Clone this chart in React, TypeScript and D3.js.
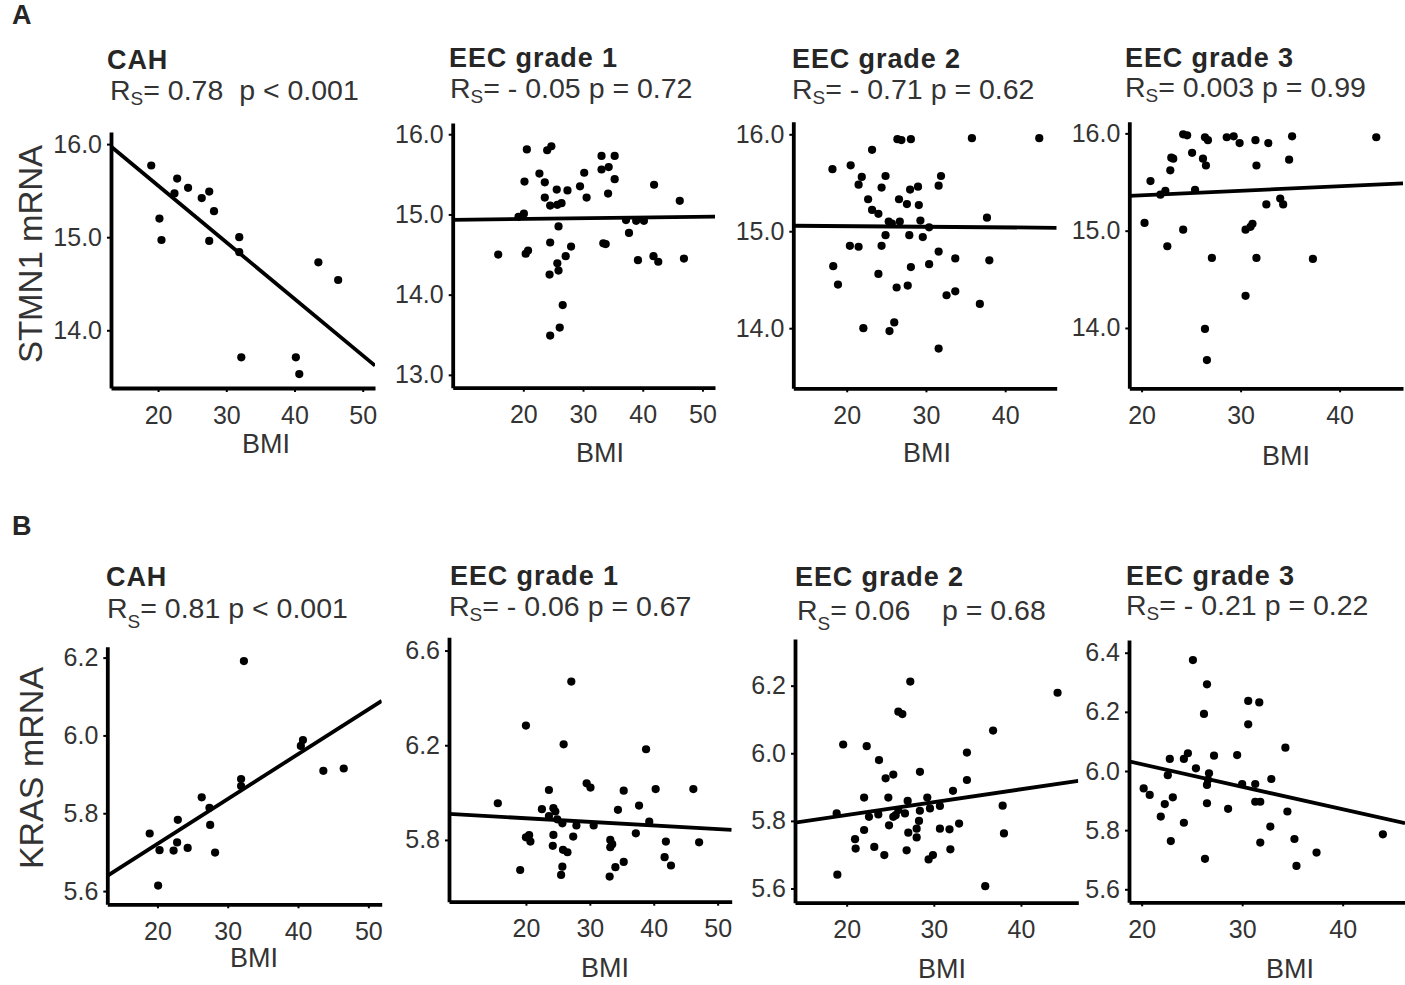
import React, { useEffect, useRef } from "react";
import * as d3 from "d3";

// panel titles and correlation labels
const panelTitles = ["CAH", "EEC grade 1", "EEC grade 2", "EEC grade 3"];
const stmn1Stats = ["= 0.78  p < 0.001", "= - 0.05 p = 0.72", "= - 0.71 p = 0.62", "= 0.003 p = 0.99"];
const krasStats = ["= 0.81 p < 0.001", "= - 0.06 p = 0.67", "= 0.06    p = 0.68", "= - 0.21 p = 0.22"];

// BMI vs STMN1 mRNA
const stmn1Cah = [
  [19.0, 15.77], [20.2, 15.2], [20.5, 14.97], [22.4, 15.47], [22.8, 15.63], [24.4, 15.53], [26.4, 15.42],
  [27.5, 15.49], [28.2, 15.28], [27.5, 14.96], [31.9, 15.0], [31.9, 14.84], [43.5, 14.73], [46.4, 14.54],
  [32.2, 13.71], [40.2, 13.71], [40.7, 13.53],
];
const stmn1Grade1 = [
  [15.8, 14.5], [19.2, 14.97], [20.1, 15.01], [20.2, 15.41], [20.6, 15.81], [20.4, 14.51], [20.8, 14.55],
  [22.7, 15.51], [23.6, 15.4], [23.6, 15.21], [24.0, 15.8], [24.7, 15.85], [24.5, 15.11], [24.5, 14.65],
  [24.4, 14.25], [24.5, 13.49], [25.6, 15.31], [25.7, 15.12], [26.4, 15.14], [25.9, 14.85], [25.7, 14.39],
  [25.9, 14.3], [26.1, 13.59], [26.6, 13.87], [27.1, 14.48], [27.4, 15.3], [28.0, 14.6], [29.5, 15.35],
  [30.2, 15.52], [30.6, 15.21], [33.1, 15.73], [33.1, 15.56], [33.4, 14.64], [33.8, 14.63], [34.3, 15.59],
  [34.2, 15.26], [35.3, 15.73], [35.3, 15.44], [37.2, 14.93], [37.7, 14.77], [38.9, 14.92], [40.2, 14.92],
  [39.2, 14.43], [41.9, 15.37], [41.8, 14.48], [42.6, 14.41], [46.2, 15.17], [46.9, 14.45],
];
const stmn1Grade2 = [
  [18.2, 15.64], [18.3, 14.64], [18.9, 14.45], [20.5, 15.68], [20.4, 14.85], [21.5, 14.84], [21.9, 15.56],
  [21.5, 15.48], [22.1, 14.0], [22.7, 15.33], [23.2, 15.84], [23.2, 15.22], [24.0, 15.18], [24.4, 15.45],
  [24.9, 15.57], [24.4, 14.85], [24.0, 14.56], [24.9, 14.96], [25.3, 15.1], [25.7, 15.08], [26.0, 14.06],
  [25.4, 13.97], [26.3, 14.42], [26.4, 15.95], [26.9, 15.94], [26.6, 15.33], [26.7, 15.1], [27.6, 15.28],
  [27.7, 14.44], [27.9, 14.96], [28.1, 15.95], [28.0, 15.43], [29.0, 15.46], [28.1, 14.63], [29.1, 15.27],
  [29.3, 15.11], [29.6, 14.94], [30.4, 15.04], [30.4, 14.66], [31.6, 15.47], [31.9, 15.57], [31.6, 14.79],
  [31.6, 13.79], [32.6, 14.34], [33.7, 14.38], [33.7, 14.72], [35.8, 15.96], [36.8, 14.25], [37.7, 15.14],
  [38.0, 14.7], [44.3, 15.96],
];
const stmn1Grade3 = [
  [20.3, 15.08], [20.9, 15.51], [21.9, 15.37], [22.4, 15.41], [22.6, 14.84], [22.9, 15.62], [23.0, 15.75],
  [23.2, 15.74], [24.2, 15.99], [24.6, 15.98], [24.2, 15.01], [25.1, 15.8], [25.4, 15.42], [26.2, 15.74],
  [26.5, 15.67], [26.4, 15.96], [26.7, 15.93], [27.1, 14.72], [26.4, 13.99], [26.6, 13.67], [28.6, 15.96],
  [29.3, 15.97], [29.9, 15.9], [30.5, 15.01], [31.2, 15.07], [31.0, 15.04], [30.5, 14.33], [31.5, 15.93],
  [31.6, 15.67], [31.6, 14.72], [32.8, 15.9], [32.6, 15.27], [34.0, 15.33], [34.3, 15.27], [34.9, 15.73],
  [35.2, 15.97], [37.3, 14.71], [43.7, 15.96],
];

// BMI vs KRAS mRNA
const krasCah = [
  [18.9, 5.748], [20.3, 5.705], [20.1, 5.614], [22.3, 5.704], [22.8, 5.725], [22.9, 5.783], [24.3, 5.711],
  [26.3, 5.841], [27.4, 5.814], [27.5, 5.77], [28.2, 5.699], [31.9, 5.888], [31.9, 5.87], [32.3, 6.191],
  [40.4, 5.973], [40.7, 5.988], [43.6, 5.909], [46.5, 5.915],
];
const krasGrade1 = [
  [15.6, 5.955], [19.1, 5.673], [20.0, 6.283], [20.0, 5.811], [20.5, 5.82], [20.7, 5.793], [22.5, 5.93],
  [23.6, 6.011], [23.6, 5.901], [24.3, 5.934], [24.6, 5.92], [24.3, 5.821], [24.2, 5.775], [24.9, 5.887],
  [25.7, 5.87], [25.8, 5.758], [26.5, 5.748], [25.7, 5.687], [25.5, 5.652], [25.9, 6.204], [27.1, 6.469],
  [27.4, 5.814], [27.9, 5.861], [29.5, 6.039], [30.1, 6.021], [30.6, 5.861], [33.2, 5.8], [33.5, 5.782],
  [33.2, 5.769], [33.1, 5.645], [34.0, 5.685], [34.4, 5.927], [35.3, 6.008], [35.3, 5.707], [37.2, 5.828],
  [37.7, 5.945], [38.8, 6.183], [39.3, 5.877], [40.3, 6.015], [41.9, 5.793], [41.7, 5.727], [42.7, 5.692],
  [46.2, 6.015], [47.1, 5.79],
];
const krasGrade2 = [
  [18.85, 5.822], [18.93, 5.641], [19.6, 6.026], [20.96, 5.746], [21.03, 5.718], [22.0, 5.869], [22.0, 5.773],
  [22.3, 6.021], [22.56, 5.812], [23.17, 5.723], [23.63, 5.819], [23.71, 5.98], [24.32, 5.699], [24.47, 5.926],
  [24.78, 5.869], [24.86, 5.787], [25.35, 5.937], [25.35, 5.812], [25.62, 5.817], [25.93, 6.123], [26.39, 6.116],
  [25.93, 5.832], [26.69, 5.822], [27.0, 5.859], [27.07, 5.765], [27.3, 6.212], [26.88, 5.713], [28.03, 5.751],
  [28.03, 5.777], [28.3, 5.8], [28.4, 5.83], [28.41, 5.945], [29.25, 5.869], [29.56, 5.837], [29.4, 5.686],
  [29.9, 5.699], [30.7, 5.844], [30.7, 5.777], [31.8, 5.775], [31.9, 5.716], [32.2, 5.889], [32.9, 5.792],
  [33.8, 6.002], [33.8, 5.921], [35.9, 5.607], [36.8, 6.067], [37.9, 5.845], [38.05, 5.763], [44.2, 6.179],
];
const krasGrade3 = [
  [20.2, 5.941], [20.8, 5.919], [21.9, 5.846], [22.3, 5.888], [22.6, 5.986], [22.8, 6.041], [23.1, 5.911],
  [22.9, 5.763], [24.2, 6.041], [24.6, 6.06], [24.2, 5.825], [25.1, 6.375], [25.4, 6.009], [26.2, 6.193],
  [26.5, 6.293], [26.7, 5.992], [26.6, 5.97], [26.5, 5.953], [26.5, 5.891], [26.3, 5.703], [27.2, 6.052],
  [28.6, 5.872], [29.5, 6.054], [30.0, 5.956], [30.6, 6.237], [30.6, 6.158], [31.7, 6.232], [31.3, 5.956],
  [31.3, 5.896], [31.8, 5.896], [31.8, 5.758], [32.8, 5.812], [32.9, 5.973], [34.3, 6.079], [34.5, 5.863],
  [35.2, 5.77], [35.4, 5.679], [37.4, 5.724], [44.0, 5.786],
];

// regression lines: [intercept, slope]
const stmn1Fits = [[16.77, -0.0608], [14.926, 0.0009], [15.065, -0.00063], [15.269, 0.0047]];
const krasFits = [[5.491, 0.01152], [5.922, -0.00153], [5.741, 0.00381], [6.175, -0.00761]];

// tick values
const stmn1BmiTicks = [[20, 30, 40, 50], [20, 30, 40, 50], [20, 30, 40], [20, 30, 40]];
const krasBmiTicks = [[20, 30, 40, 50], [20, 30, 40, 50], [20, 30, 40], [20, 30, 40]];
const stmn1YTicks = [[14, 15, 16], [13, 14, 15, 16], [14, 15, 16], [14, 15, 16]];
const krasYTicks = [[5.6, 5.8, 6.0, 6.2], [5.8, 6.2, 6.6], [5.6, 5.8, 6.0, 6.2], [5.6, 5.8, 6.0, 6.2, 6.4]];

// panel boxes (px) and visible domains
const layoutA = [
  { l: 111, t: 132, b: 388, r: 375, xd: [13.1, 51.8], yd: [13.38, 16.13], tx: 107, ty: 69, sx: 110, sy: 100, bx: 266, by: 453, sub: 5 },
  { l: 452.7, t: 123, b: 387.7, r: 715, xd: [8.18, 52.1], yd: [12.84, 16.14], tx: 449, ty: 67, sx: 450, sy: 98, bx: 600, by: 462, sub: 5 },
  { l: 793.3, t: 121.7, b: 388.3, r: 1056.7, xd: [13.26, 46.5], yd: [13.38, 16.13], tx: 792, ty: 68, sx: 792, sy: 99, bx: 927, by: 462, sub: 5 },
  { l: 1129.3, t: 121.7, b: 388.3, r: 1403, xd: [18.76, 46.4], yd: [13.38, 16.12], tx: 1125, ty: 67, sx: 1125, sy: 97, bx: 1286, by: 465, sub: 5 },
];
const layoutB = [
  { l: 107.3, t: 646.7, b: 904.3, r: 381.7, xd: [12.87, 51.9], yd: [5.566, 6.228], tx: 106, ty: 586, sx: 107, sy: 618, bx: 254, by: 967, sub: 10 },
  { l: 449, t: 637.3, b: 901.7, r: 731.7, xd: [7.96, 52.2], yd: [5.539, 6.656], tx: 450, ty: 585, sx: 449, sy: 616, bx: 605, by: 977, sub: 5 },
  { l: 795, t: 639, b: 902.7, r: 1078.3, xd: [14.07, 46.58], yd: [5.558, 6.338], tx: 795, ty: 586, sx: 797, sy: 620, bx: 942, by: 978, sub: 10 },
  { l: 1129, t: 640, b: 902.3, r: 1405, xd: [18.74, 46.2], yd: [5.556, 6.443], tx: 1126, ty: 585, sx: 1126, sy: 615, bx: 1290, by: 978, sub: 5 },
];

const FONT = "'Liberation Sans', Arial, Helvetica, sans-serif";
const INK = "#262626";

export default function App() {
  const ref = useRef<SVGSVGElement>(null);

  useEffect(() => {
    const svg = d3.select(ref.current);
    svg.selectAll("*").remove();

    const rows = [
      { key: "a", layout: layoutA, data: [stmn1Cah, stmn1Grade1, stmn1Grade2, stmn1Grade3], fits: stmn1Fits, stats: stmn1Stats, xt: stmn1BmiTicks, yt: stmn1YTicks },
      { key: "b", layout: layoutB, data: [krasCah, krasGrade1, krasGrade2, krasGrade3], fits: krasFits, stats: krasStats, xt: krasBmiTicks, yt: krasYTicks },
    ];

    rows.forEach((row) => {
      row.layout.forEach((p, i) => {
        const x = d3.scaleLinear().domain(p.xd).range([p.l, p.r]);
        const y = d3.scaleLinear().domain(p.yd).range([p.b, p.t]);
        const g = svg.append("g");

        // title + stats
        g.append("text").attr("x", p.tx).attr("y", p.ty)
          .attr("font-family", FONT).attr("font-weight", "bold").attr("font-size", 27)
          .attr("letter-spacing", 0.9).attr("fill", INK).text(panelTitles[i]);
        const st = g.append("text").attr("x", p.sx).attr("y", p.sy)
          .attr("font-family", FONT).attr("font-size", 28.5).attr("fill", "#333")
          .style("white-space", "pre");
        st.append("tspan").text("R");
        st.append("tspan").attr("font-size", 19).attr("dy", p.sub).text("S");
        st.append("tspan").attr("dy", -p.sub).text(row.stats[i]);

        // axes
        const ax = g.append("g").attr("transform", `translate(0,${p.b})`)
          .call(d3.axisBottom(x).tickValues(row.xt[i]).tickSize(4).tickPadding(14).tickSizeOuter(0).tickFormat(d3.format("d")));
        const ay = g.append("g").attr("transform", `translate(${p.l},0)`)
          .call(d3.axisLeft(y).tickValues(row.yt[i]).tickSize(4).tickPadding(5).tickSizeOuter(0).tickFormat(d3.format(".1f")));
        [ax, ay].forEach((a) => {
          a.select(".domain").attr("stroke", "#000").attr("stroke-width", 3.8);
          a.selectAll(".tick line").attr("stroke", "#000").attr("stroke-width", 2);
          a.selectAll(".tick text").attr("font-family", FONT).attr("font-size", 25).attr("fill", "#333");
        });

        // regression line, clipped to the panel
        const [b0, b1] = row.fits[i];
        const clipId = `clip-${row.key}-${i}`;
        svg.append("clipPath").attr("id", clipId).append("rect")
          .attr("x", p.l).attr("y", p.t).attr("width", p.r - p.l).attr("height", p.b - p.t);
        g.append("line")
          .attr("clip-path", `url(#${clipId})`)
          .attr("x1", x(p.xd[0])).attr("y1", y(b0 + b1 * p.xd[0]))
          .attr("x2", x(p.xd[1])).attr("y2", y(b0 + b1 * p.xd[1]))
          .attr("stroke", "#000").attr("stroke-width", 3.8);

        // points
        g.selectAll("circle.pt").data(row.data[i]).enter().append("circle")
          .attr("class", "pt")
          .attr("cx", (d) => x(d[0])).attr("cy", (d) => y(d[1]))
          .attr("r", 4.1).attr("fill", "#000");

        // x label
        g.append("text").attr("x", p.bx).attr("y", p.by).attr("text-anchor", "middle")
          .attr("font-family", FONT).attr("font-size", 27).attr("fill", "#333").text("BMI");
      });
    });

    // y labels and panel letters
    svg.append("text").attr("transform", "translate(42,254) rotate(-90)").attr("text-anchor", "middle")
      .attr("font-family", FONT).attr("font-size", 33).attr("fill", "#333").text("STMN1 mRNA");
    svg.append("text").attr("transform", "translate(43,768) rotate(-90)").attr("text-anchor", "middle")
      .attr("font-family", FONT).attr("font-size", 34).attr("fill", "#333").text("KRAS mRNA");
    svg.append("text").attr("x", 12).attr("y", 24).attr("font-family", FONT).attr("font-weight", "bold")
      .attr("font-size", 27).attr("fill", INK).text("A");
    svg.append("text").attr("x", 12).attr("y", 535).attr("font-family", FONT).attr("font-weight", "bold")
      .attr("font-size", 27).attr("fill", INK).text("B");
  }, []);

  return (
    <svg ref={ref} width={1405} height={985}
      style={{ position: "absolute", left: 0, top: 0, background: "#fff" }} />
  );
}
